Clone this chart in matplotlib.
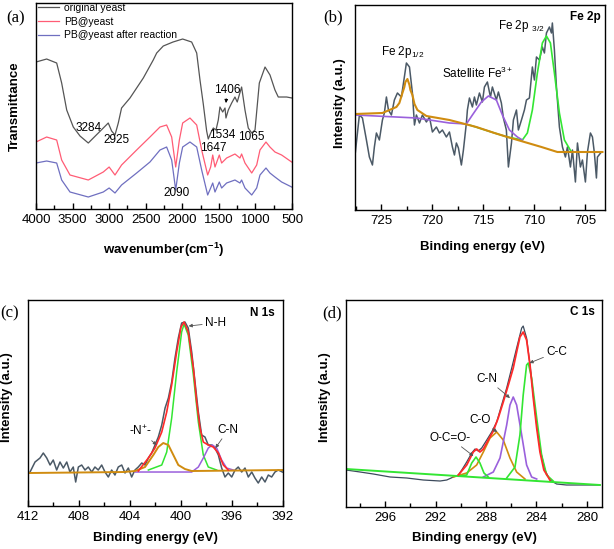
import matplotlib.pyplot as plt
from matplotlib.ticker import MultipleLocator

plt.rcParams['font.family'] = ['Liberation Sans', 'DejaVu Sans']
plt.rcParams['mathtext.fontset'] = 'custom'
plt.rcParams['mathtext.rm'] = 'Liberation Sans'
plt.rcParams['mathtext.it'] = 'Liberation Sans:italic'
plt.rcParams['mathtext.bf'] = 'Liberation Sans:bold'

# ******************* (a) FTIR spectra *******************
wn_yeast = [4000, 3854, 3717, 3649, 3580, 3490, 3398, 3285, 3148, 3012,
            2966, 2920, 2875, 2830, 2715, 2533, 2397, 2350, 2260, 2127,
            1995, 1872, 1803, 1758, 1713, 1667, 1645, 1612, 1576, 1539,
            1508, 1485, 1448, 1416, 1403, 1371, 1325, 1280, 1249, 1189,
            1143, 1098, 1051, 1006, 947, 869, 801, 733, 688, 573, 500]
t_yeast = [147, 150, 146, 126, 99, 82, 73, 66, 76, 86,
           78, 74, 86, 101, 111, 131, 149, 156, 163, 167,
           170, 167, 156, 129, 105, 78, 70, 76, 81, 79,
           89, 102, 97, 101, 91, 99, 106, 112, 107, 122,
           99, 81, 76, 79, 126, 142, 134, 119, 112, 112, 111]
wn_pb = [4000, 3854, 3717, 3649, 3535, 3285, 3080, 3000, 2920, 2830,
         2624, 2442, 2305, 2214, 2145, 2090, 2040, 1995, 1895, 1803,
         1735, 1653, 1612, 1584, 1553, 1494, 1462, 1394, 1280, 1212,
         1189, 1143, 1051, 983, 938, 856, 802, 733, 642, 505]
t_pb = [67, 72, 69, 49, 34, 29, 37, 42, 34, 44,
        59, 72, 82, 84, 72, 42, 69, 86, 91, 84,
        59, 34, 42, 54, 42, 54, 46, 51, 55, 51,
        55, 46, 36, 44, 59, 67, 62, 57, 54, 47]
t_after = [46, 48, 46, 29, 17, 12, 17, 21, 16, 24,
           36, 47, 59, 62, 49, 19, 46, 62, 67, 62,
           39, 14, 21, 26, 17, 27, 21, 26, 29, 26,
           29, 21, 14, 21, 34, 41, 36, 32, 27, 22]
ftir_labels = ["3284", "2925", "1647", "1534", "1065", "2090"]
ftir_label_x = [3275, 2893, 1580, 1457, 1061, 2073]
ftir_label_y = [81, 69, 61, 74, 72, 16]

# ******************* (b) Fe 2p *******************
fe_x = [727.55, 727.16, 726.86, 726.47, 726.18, 725.88, 725.69, 725.49, 725.20, 724.90,
        724.71, 724.51, 724.31, 724.02, 723.73, 723.43, 723.04, 722.75, 722.55, 722.25,
        721.96, 721.76, 721.57, 721.27, 720.98, 720.59, 720.29, 720.00, 719.61, 719.31,
        719.02, 718.63, 718.33, 718.04, 717.84, 717.65, 717.45, 717.16, 716.96, 716.67,
        716.57, 716.37, 716.08, 715.88, 715.69, 715.39, 715.10, 714.90, 714.61, 714.31,
        714.12, 713.73, 713.53, 713.24, 713.04, 712.75, 712.55, 712.25, 712.06, 711.76,
        711.57, 711.27, 710.98, 710.78, 710.49, 710.20, 710.00, 709.80, 709.51, 709.22,
        709.02, 708.82, 708.53, 708.33, 708.24, 708.04, 707.84, 707.55, 707.25, 706.96,
        706.76, 706.47, 706.27, 705.98, 705.78, 705.49, 705.29, 705.00, 704.80, 704.51,
        704.31, 704.12, 703.92, 703.82, 703.43]
fe_raw = [58, 95, 92, 70, 53, 45, 63, 77, 70, 90,
          97, 113, 100, 95, 110, 117, 113, 133, 147, 143,
          117, 85, 95, 87, 95, 88, 93, 78, 83, 77,
          80, 73, 78, 63, 55, 67, 62, 45, 60, 87,
          100, 112, 103, 113, 105, 117, 108, 123, 128, 113,
          123, 110, 118, 107, 92, 80, 43, 67, 90, 100,
          80, 90, 100, 110, 112, 143, 130, 153, 150, 163,
          157, 177, 183, 177, 187, 160, 123, 83, 63, 53,
          63, 43, 60, 28, 67, 43, 50, 28, 58, 77,
          73, 57, 32, 53, 58]
fe12_x = [727.55, 724.90, 723.53, 723.24, 722.94, 722.75, 722.65, 722.45, 722.25, 722.16,
          721.96, 721.76, 721.47, 720.59, 718.33, 715.69, 713.92, 712.65, 710.98, 709.31,
          707.75, 706.37, 703.33]
fe12_y = [96, 97, 103, 107, 117, 123, 128, 131, 125, 120,
          115, 106, 100, 94, 90, 83, 77, 73, 68, 63,
          58, 58, 58]
sat_x = [727.55, 721.57, 718.33, 716.67, 716.08, 715.20, 714.51, 713.73, 713.14, 712.45,
         711.67, 711.18]
sat_y = [95, 92, 87, 86, 95, 108, 114, 110, 95, 80, 73, 70]
fe32_x = [716.37, 713.92, 712.65, 711.18, 710.69, 710.20, 709.71, 709.22, 708.82, 708.43,
          708.04, 707.55, 707.06, 706.37]
fe32_y = [85, 77, 73, 70, 77, 100, 137, 167, 174, 167,
          137, 97, 70, 58]

# ******************* (c) N 1s *******************
n_x = [411.84, 411.45, 411.06, 410.80, 410.53, 410.27, 410.02, 409.75, 409.49, 409.23,
       408.96, 408.71, 408.45, 408.26, 408.05, 407.79, 407.53, 407.27, 407.00, 406.75,
       406.49, 406.22, 405.96, 405.70, 405.44, 405.18, 404.92, 404.65, 404.39, 404.13,
       403.87, 403.61, 403.35, 403.08, 402.82, 402.56, 402.30, 402.04, 401.78, 401.51,
       401.25, 400.99, 400.73, 400.47, 400.21, 399.95, 399.69, 399.43, 399.16, 398.90,
       398.64, 398.38, 398.12, 397.86, 397.59, 397.33, 397.07, 396.81, 396.55, 396.29,
       396.02, 395.76, 395.51, 395.24, 394.98, 394.72, 394.45, 394.20, 393.94, 393.67,
       393.41, 393.15, 392.89, 392.63, 392.37, 392.05]
n_raw = [34, 44, 48, 53, 48, 41, 46, 36, 44, 38,
         44, 34, 39, 24, 39, 41, 36, 39, 34, 39,
         36, 41, 34, 29, 36, 31, 39, 41, 33, 38,
         29, 36, 39, 43, 41, 48, 53, 61, 69, 81,
         98, 108, 124, 148, 168, 183, 184, 178, 154, 124,
         94, 71, 69, 61, 61, 58, 51, 38, 29, 33,
         29, 36, 39, 34, 38, 29, 34, 28, 23, 29,
         24, 31, 29, 34, 36, 34]
nplus_x = [412.0, 404.5, 403.61, 402.82, 402.17, 401.78, 401.39, 400.99, 400.60, 400.21,
           399.69, 399.16, 392.0]
nplus_y = [33, 34, 35, 39, 51, 59, 63, 61, 51, 41, 37, 35, 36]
nh_x = [402.56, 401.51, 401.12, 400.73, 400.34, 399.95, 399.76, 399.43, 399.03, 398.64,
        398.25, 397.86, 397.20]
nh_y = [36, 41, 54, 88, 134, 174, 182, 171, 131, 84, 51, 39, 36]
cn_x = [403.6, 399.16, 398.64, 398.25, 397.86, 397.54, 397.20, 396.81, 396.42, 395.90]
cn_y = [34, 34, 39, 48, 58, 61, 58, 46, 38, 36]
nsum_x = [403.35, 402.56, 402.04, 401.51, 401.12, 400.73, 400.34, 400.0, 399.76, 399.43,
          399.03, 398.77, 398.51, 398.25, 397.86, 397.47, 397.07, 396.68, 396.29]
nsum_y = [35, 48, 58, 74, 94, 121, 154, 179, 184, 174,
          138, 104, 78, 64, 61, 59, 53, 41, 36]

# ******************* (d) C 1s *******************
c_x = [299.09, 297.98, 296.93, 295.60, 294.28, 292.97, 291.64, 291.11, 290.59, 290.19,
       289.92, 289.53, 289.13, 288.87, 288.61, 288.34, 287.94, 287.55, 287.15, 286.76,
       286.36, 285.96, 285.57, 285.17, 285.05, 284.78, 284.51, 284.25, 283.98, 283.72,
       283.33, 282.93, 282.40, 281.61, 280.55, 278.97]
c_raw = [37, 35, 33, 30, 29, 27, 26, 27, 30, 32,
         37, 45, 54, 58, 56, 59, 67, 75, 85, 102,
         119, 139, 159, 179, 181, 169, 142, 112, 82, 59,
         37, 27, 23, 22, 22, 22]
cbase_x = [299.09, 278.97]
cbase_y = [38, 22]
oco_x = [290.19, 289.53, 289.13, 288.79, 288.48, 288.16, 287.82]
oco_y = [31, 32, 44, 50, 44, 34, 30]
co_x = [290.59, 289.53, 288.74, 288.21, 287.68, 287.15, 286.63, 286.10, 285.57, 284.91]
co_y = [30, 34, 42, 55, 69, 75, 67, 49, 35, 28]
ccn_x = [288.21, 287.42, 286.89, 286.36, 286.10, 285.84, 285.57, 285.17, 284.78, 284.38, 283.98]
ccn_y = [30, 35, 49, 82, 102, 110, 102, 72, 42, 30, 28]
cc_x = [286.36, 285.70, 285.31, 285.05, 284.78, 284.65, 284.38, 283.98, 283.59, 283.19, 282.67]
cc_y = [29, 40, 72, 112, 142, 144, 129, 89, 52, 32, 26]
csum_x = [290.19, 289.53, 289.01, 288.74, 288.48, 288.21, 287.82, 287.42, 287.03, 286.63,
          286.23, 285.84, 285.57, 285.31, 285.05, 284.78, 284.51, 284.25, 283.98, 283.72,
          283.41, 282.93]
csum_y = [32, 42, 55, 58, 55, 58, 67, 76, 89, 105,
          122, 139, 155, 170, 175, 167, 142, 109, 79, 55,
          37, 27]

RAW = '#4b5966'
ORANGE = '#d08c10'
PURPLE = '#9a60dc'
GREEN = '#33e633'
RED = '#ff2a2a'


def style_axes(ax, major, minor):
    for s in ax.spines.values():
        s.set_linewidth(1.0)
    ax.xaxis.set_major_locator(MultipleLocator(major))
    ax.xaxis.set_minor_locator(MultipleLocator(minor))
    ax.tick_params(axis='x', which='both', direction='in', top=False, labelsize=9.5)
    ax.tick_params(axis='x', which='major', length=4, width=1)
    ax.tick_params(axis='x', which='minor', length=3, width=1)
    ax.tick_params(axis='y', which='both', left=False, labelleft=False)


fig = plt.figure(figsize=(6.14, 5.49), dpi=100)
ax1 = fig.add_axes([0.0586, 0.6193, 0.417, 0.3752])
ax2 = fig.add_axes([0.578, 0.6175, 0.407, 0.3734])
ax3 = fig.add_axes([0.0456, 0.0783, 0.4153, 0.3752])
ax4 = fig.add_axes([0.5635, 0.0765, 0.417, 0.377])

# (a)
ax1.plot(wn_yeast, t_yeast, color='#555555', lw=0.9, label='original yeast')
ax1.plot(wn_pb, t_pb, color='#ff5c75', lw=0.9, label='PB@yeast')
ax1.plot(wn_pb, t_after, color='#6f6fc0', lw=0.9, label='PB@yeast after reaction')
ax1.set_xlim(4000, 500)
ax1.set_ylim(0, 206)
style_axes(ax1, 500, 250)
for lab, lx, ly in zip(ftir_labels, ftir_label_x, ftir_label_y):
    ax1.text(lx, ly, lab, fontsize=8.5, ha='center', va='center')
ax1.annotate('1406', xy=(1403, 106), xytext=(1389, 119), fontsize=8.5,
             ha='center', va='center',
             arrowprops=dict(arrowstyle='-|>', color='black', lw=0.6, mutation_scale=5,
                             shrinkA=0, shrinkB=0))
ax1.legend(loc='upper left', bbox_to_anchor=(0.0, 1.01), frameon=False, fontsize=7.5,
           handlelength=2.0, handletextpad=0.5, labelspacing=0.35, borderaxespad=0.1,
           borderpad=0.1)
ax1.set_xlabel('wavenumber(cm$^{\\mathbf{-1}}$)', fontsize=9.5, fontweight='bold')
ax1.set_ylabel('Transmittance', fontsize=9.5, fontweight='bold')
ax1.xaxis.set_label_coords(0.5, -0.155)
ax1.yaxis.set_label_coords(-0.059, 0.5)

# (b)
ax2.plot(fe_x, fe_raw, color=RAW, lw=1.1)
ax2.plot(fe32_x, fe32_y, color=GREEN, lw=1.2)
ax2.plot(sat_x, sat_y, color=PURPLE, lw=1.2)
ax2.plot(fe12_x, fe12_y, color=ORANGE, lw=1.5)
ax2.set_xlim(727.6, 703.1)
ax2.set_ylim(0, 205)
style_axes(ax2, 5, 2.5)
ax2.text(722.9, 158, 'Fe 2p$_{\\mathregular{1/2}}$', fontsize=8.5, ha='center', va='center')
ax2.text(715.6, 137, 'Satellite Fe$^{\\mathregular{3+}}$', fontsize=8.5, ha='center', va='center')
ax2.text(711.3, 184, 'Fe 2p $_{\\mathregular{3/2}}$', fontsize=8.5, ha='center', va='center')
ax2.text(0.985, 0.94, 'Fe 2p', transform=ax2.transAxes, fontsize=8.5, fontweight='bold',
         ha='right', va='center')
ax2.set_xlabel('Binding energy (eV)', fontsize=9.5, fontweight='bold')
ax2.set_ylabel('Intensity (a.u.)', fontsize=9.5, fontweight='bold')
ax2.xaxis.set_label_coords(0.51, -0.151)
ax2.yaxis.set_label_coords(-0.036, 0.52)

arrow = dict(arrowstyle='-|>', color='#555555', lw=0.6, mutation_scale=5, shrinkA=0, shrinkB=0)

# (c)
ax3.plot(n_x, n_raw, color=RAW, lw=1.1)
ax3.plot(nh_x, nh_y, color=GREEN, lw=1.1)
ax3.plot(cn_x, cn_y, color=PURPLE, lw=1.1)
ax3.plot(nplus_x, nplus_y, color=ORANGE, lw=1.4)
ax3.plot(nsum_x, nsum_y, color=RED, lw=1.2)
ax3.set_xlim(412, 392)
ax3.set_ylim(0, 206)
style_axes(ax3, 4, 2)
ax3.annotate('N-H', xy=(399.4, 180), xytext=(397.3, 183), fontsize=8.5,
             ha='center', va='center', arrowprops=arrow)
ax3.annotate('-N$^{\\mathregular{+}}$-', xy=(401.9, 61), xytext=(403.2, 75), fontsize=8.5,
             ha='center', va='center', arrowprops=arrow)
ax3.annotate('C-N', xy=(397.3, 58), xytext=(396.3, 76), fontsize=8.5,
             ha='center', va='center', arrowprops=arrow)
ax3.text(0.969, 0.937, 'N 1s', transform=ax3.transAxes, fontsize=8.5, fontweight='bold',
         ha='right', va='center')
ax3.set_xlabel('Binding energy (eV)', fontsize=9.5, fontweight='bold')
ax3.set_ylabel('Intensity (a.u.)', fontsize=9.5, fontweight='bold')
ax3.xaxis.set_label_coords(0.5, -0.126)
ax3.yaxis.set_label_coords(-0.059, 0.53)

# (d)
ax4.plot(c_x, c_raw, color='#3c4a5c', lw=0.9)
ax4.plot(co_x, co_y, color=ORANGE, lw=1.2)
ax4.plot(ccn_x, ccn_y, color=PURPLE, lw=1.2)
ax4.plot(cc_x, cc_y, color=GREEN, lw=1.2)
ax4.plot(oco_x, oco_y, color=GREEN, lw=1.2)
ax4.plot(cbase_x, cbase_y, color=GREEN, lw=1.4)
ax4.plot(csum_x, csum_y, color=RED, lw=1.3)
ax4.set_xlim(299.1, 278.8)
ax4.set_ylim(0, 207)
style_axes(ax4, 4, 2)
ax4.annotate('C-C', xy=(284.55, 144), xytext=(282.4, 155), fontsize=8.5,
             ha='center', va='center', arrowprops=arrow)
ax4.annotate('C-N', xy=(286.1, 109), xytext=(287.9, 128), fontsize=8.5,
             ha='center', va='center', arrowprops=arrow)
ax4.annotate('C-O', xy=(287.1, 75), xytext=(288.5, 87), fontsize=8.5,
             ha='center', va='center', arrowprops=arrow)
ax4.annotate('O-C=O-', xy=(289.0, 51), xytext=(290.85, 69), fontsize=8.5,
             ha='center', va='center', arrowprops=arrow)
ax4.text(0.973, 0.94, 'C 1s', transform=ax4.transAxes, fontsize=8.5, fontweight='bold',
         ha='right', va='center')
ax4.set_xlabel('Binding energy (eV)', fontsize=9.5, fontweight='bold')
ax4.set_ylabel('Intensity (a.u.)', fontsize=9.5, fontweight='bold')
ax4.xaxis.set_label_coords(0.5, -0.121)
ax4.yaxis.set_label_coords(-0.059, 0.53)

# panel letters
for lab, px, py in [('(a)', 0.026, 0.967), ('(b)', 0.542, 0.969),
                    ('(c)', 0.016, 0.43), ('(d)', 0.541, 0.43)]:
    fig.text(px, py, lab, fontsize=12, family='Liberation Serif', ha='center', va='center')

fig.savefig('out.png', dpi=100)
